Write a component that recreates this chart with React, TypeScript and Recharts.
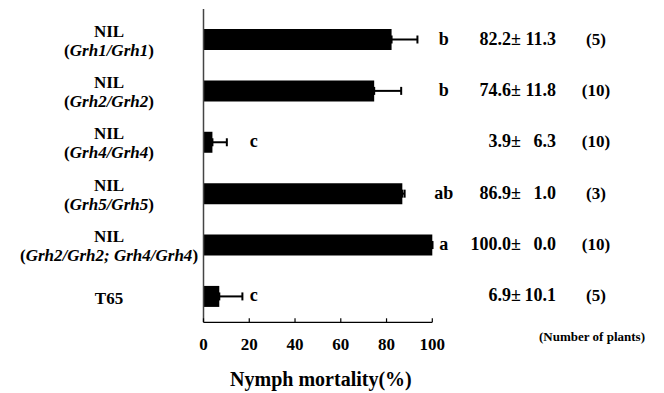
import React from 'react';
import { BarChart, Bar, XAxis, YAxis, ErrorBar, LabelList } from 'recharts';

const names = ['NIL1', 'NIL2', 'NIL4', 'NIL5', 'NIL24', 'T65'];
const topLines = ['NIL', 'NIL', 'NIL', 'NIL', 'NIL', 'T65'];
const genotypes = ['Grh1/Grh1', 'Grh2/Grh2', 'Grh4/Grh4', 'Grh5/Grh5', 'Grh2/Grh2; Grh4/Grh4', ''];
const means = [82.2, 74.6, 3.9, 86.9, 100.0, 6.9];
const sds = [11.3, 11.8, 6.3, 1.0, 0.0, 10.1];
const letters = ['b', 'b', 'c', 'ab', 'a', 'c'];
const plants = [5, 10, 10, 3, 10, 5];
const xTicks = [0, 20, 40, 60, 80, 100];

const data = names.map((name, i) => ({
  name,
  mean: means[i],
  err: [0, sds[i]],
}));

const txt = (size: number) => ({
  fontFamily: 'Liberation Serif',
  fontWeight: 'bold' as const,
  fontSize: size,
  fill: '#000',
});

const YTick = (props: any) => {
  const { x, y, payload } = props;
  const i = names.indexOf(payload.value);
  const cx = x - 94.5;
  if (!genotypes[i]) {
    return (
      <text x={cx} y={y + 7} textAnchor="middle" style={txt(17)}>
        {topLines[i]}
      </text>
    );
  }
  return (
    <g>
      <text x={cx} y={y - 3} textAnchor="middle" style={txt(17)}>
        {topLines[i]}
      </text>
      <text x={cx} y={y + 16} textAnchor="middle" style={txt(17)}>
        (<tspan style={{ fontStyle: 'italic' }}>{genotypes[i]}</tspan>)
      </text>
    </g>
  );
};

const XTick = (props: any) => {
  const { x, y, payload } = props;
  return (
    <g>
      <line x1={x} y1={y} x2={x} y2={y - 4} stroke="#000" strokeWidth={1.2} />
      <text x={x} y={y + 27.7} textAnchor="middle" style={txt(17)}>
        {payload.value}
      </text>
    </g>
  );
};

const Annotation = (props: any) => {
  const { x, y, width, height, index } = props;
  const m = means[index];
  const perUnit = width / m;
  const cy = y + height / 2 + 5;
  // letters of the small bars sit just right of them, the rest in one column
  const letterX = x + (m > 50 ? 105 : 22) * perUnit;
  return (
    <g>
      <text x={letterX} y={cy} textAnchor="middle" style={txt(18)}>{letters[index]}</text>
      <text x={521} y={cy} textAnchor="end" style={txt(18)}>{m.toFixed(1)}±</text>
      <text x={556} y={cy} textAnchor="end" style={txt(18)}>{sds[index].toFixed(1)}</text>
      <text x={596} y={cy} textAnchor="middle" style={txt(17)}>({plants[index]})</text>
    </g>
  );
};

const TitleLabel = (props: any) => {
  const { viewBox } = props;
  const { x, y, width, height } = viewBox;
  return (
    <text x={x + width / 2 + 3} y={y + height - 7.5} textAnchor="middle" style={txt(20)}>
      Nymph mortality(%)
    </text>
  );
};

export default function App() {
  return (
    <div style={{ position: 'absolute', left: 0, top: 0, width: 664, height: 393, background: '#fff' }}>
      <BarChart
        width={664}
        height={393}
        data={data}
        layout="vertical"
        margin={{ top: 9, right: 231.7, bottom: 0, left: 0 }}
      >
        <XAxis
          type="number"
          domain={[0, 100]}
          ticks={xTicks}
          interval={0}
          tickLine={false}
          tickSize={0}
          tickMargin={0}
          height={70.7}
          axisLine={{ stroke: '#000', strokeWidth: 1.3 }}
          tick={<XTick />}
          label={<TitleLabel />}
        />
        <YAxis
          type="category"
          dataKey="name"
          width={203.5}
          interval={0}
          tickLine={false}
          tickSize={0}
          tickMargin={0}
          padding={{ top: 5, bottom: 0 }}
          axisLine={{ stroke: '#444', strokeWidth: 1.5 }}
          tick={<YTick />}
        />
        <Bar dataKey="mean" fill="#000" barSize={21} isAnimationActive={false}>
          <ErrorBar dataKey="err" direction="x" width={4} stroke="#000" strokeWidth={2} />
          <LabelList dataKey="mean" content={<Annotation />} />
        </Bar>
      </BarChart>
      <svg width={664} height={393} style={{ position: 'absolute', left: 0, top: 0, pointerEvents: 'none' }}>
        <text x={592} y={341} textAnchor="middle" style={txt(13)}>
          (Number of plants)
        </text>
      </svg>
    </div>
  );
}
